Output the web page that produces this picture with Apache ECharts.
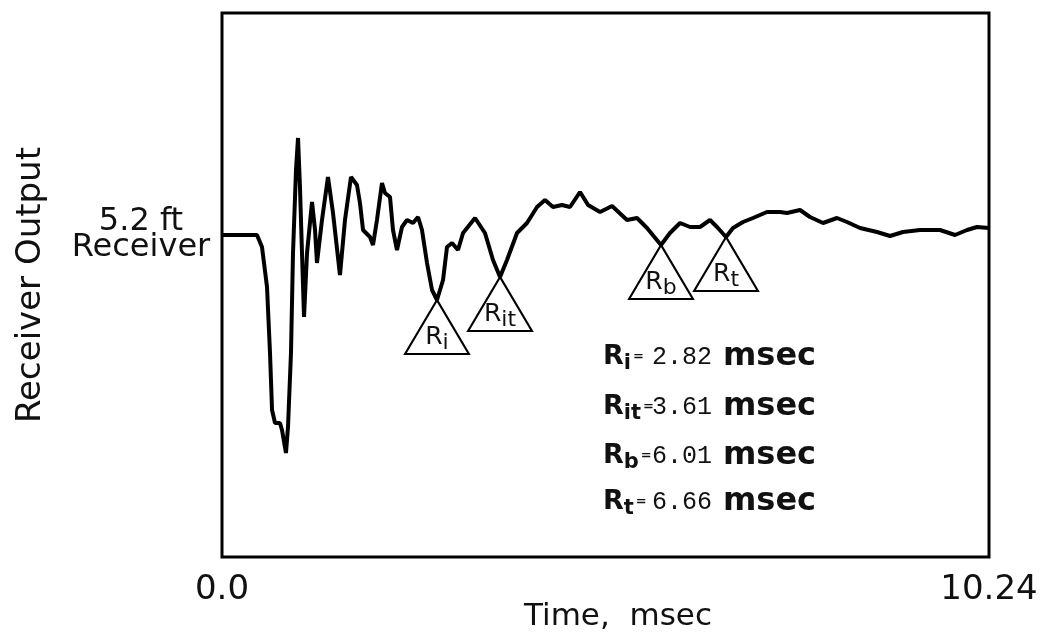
<!DOCTYPE html>
<html>
<head>
<meta charset="utf-8">
<title>Receiver Output</title>
<script src="https://cdn.jsdelivr.net/npm/echarts@6/dist/echarts.min.js"></script>
<style>
    html, body { margin: 0; padding: 0; background: #fff; }
    #chart { width: 1046px; height: 642px; }
</style>
</head>
<body>
<div id="chart"></div>
<script>
// trace (time in msec, output in arbitrary units)
var times = [0.000, 0.467, 0.534, 0.601, 0.641, 0.668, 0.708, 0.774, 0.801, 0.854,
    0.881, 0.921, 0.948, 0.988, 1.015, 1.041, 1.068, 1.095, 1.135, 1.202,
    1.242, 1.268, 1.335, 1.415, 1.482, 1.575, 1.642, 1.722, 1.802, 1.842,
    1.883, 1.976, 2.016, 2.069, 2.136, 2.176, 2.243, 2.283, 2.336, 2.403,
    2.470, 2.550, 2.617, 2.670, 2.737, 2.804, 2.870, 2.951, 3.004, 3.071,
    3.151, 3.218, 3.378, 3.511, 3.618, 3.712, 3.805, 3.939, 4.072, 4.206,
    4.312, 4.419, 4.539, 4.646, 4.780, 4.887, 5.047, 5.207, 5.407, 5.541,
    5.674, 5.861, 5.981, 6.115, 6.248, 6.382, 6.515, 6.609, 6.729, 6.822,
    6.956, 7.089, 7.276, 7.450, 7.543, 7.717, 7.850, 8.024, 8.211, 8.344,
    8.518, 8.745, 8.919, 9.092, 9.319, 9.586, 9.786, 9.947, 10.080, 10.240];
var output = [0, 0, -0.12, -0.52, -1.18, -1.75, -1.88, -1.88, -1.95, -2.18,
    -1.92, -1.18, -0.18, 0.65, 0.97, 0.48, -0.18, -0.82, -0.18, 0.33,
    0.05, -0.28, 0.15, 0.58, 0.22, -0.40, 0.15, 0.58, 0.50, 0.32,
    0.05, -0.02, -0.10, 0.15, 0.52, 0.42, 0.38, 0.05, -0.15, 0.08,
    0.15, 0.12, 0.18, 0.05, -0.28, -0.55, -0.65, -0.45, -0.12, -0.08,
    -0.15, 0.02, 0.17, 0.02, -0.25, -0.42, -0.25, 0.02, 0.12, 0.28,
    0.35, 0.28, 0.30, 0.28, 0.43, 0.30, 0.23, 0.29, 0.15, 0.17,
    0.07, -0.10, 0.02, 0.12, 0.08, 0.08, 0.15, 0.08, -0.02, 0.07,
    0.13, 0.17, 0.23, 0.23, 0.22, 0.25, 0.18, 0.12, 0.17, 0.13,
    0.07, 0.03, -0.01, 0.03, 0.05, 0.05, 0, 0.05, 0.08, 0.07];

// arrival markers (triangles sit on the dips of the trace)
var markSubs = ['i', 'it', 'b', 't'];
var markTimes = [2.870, 3.712, 5.861, 6.729];
var markValues = [-0.65, -0.42, -0.10, -0.02];
var arrivalLabels = ['2.82', '3.61', '6.01', '6.66'];

var xTickLabels = ['0.0', '10.24'];

var chart = echarts.init(document.getElementById('chart'));

var FONT = 'DejaVu Sans';

//三角形标记
var markData = markTimes.map(function (t, i) {
    return {
        coord: [t, markValues[i]],
        label: { formatter: '{r|R}{s|' + markSubs[i] + '}' }
    };
});

//右下角文字
var graphics = [];
var lineY = [357, 407, 456, 502];
markSubs.forEach(function (s, i) {
    graphics.push({
        type: 'text', x: 603, y: lineY[i],
        style: {
            text: '{r|R}{s|' + s + '}{e|=}',
            align: 'left', verticalAlign: 'middle',
            textAlign: 'left', textVerticalAlign: 'middle',
            rich: {
                r: { fontFamily: FONT, fontWeight: 'bold', fontSize: 27, fill: '#111' },
                s: { fontFamily: FONT, fontWeight: 'bold', fontSize: 21, fill: '#111', padding: [14, 0, 0, 0] },
                e: { fontFamily: FONT, fontWeight: 'bold', fontSize: 13, fill: '#111', padding: [0, 0, 0, 2] }
            }
        }
    });
    graphics.push({
        type: 'text', x: 652, y: lineY[i],
        style: {
            text: arrivalLabels[i], fill: '#111',
            font: '25px "Liberation Mono"',
            align: 'left', verticalAlign: 'middle',
            textAlign: 'left', textVerticalAlign: 'middle'
        }
    });
    graphics.push({
        type: 'text', x: 723, y: lineY[i],
        style: {
            text: 'msec', fill: '#111',
            font: 'bold 32px "DejaVu Sans"',
            align: 'left', verticalAlign: 'middle',
            textAlign: 'left', textVerticalAlign: 'middle'
        }
    });
});
//接收器标签
graphics.push({
    type: 'text', x: 141, y: 235,
    style: {
        text: '5.2 ft\nReceiver', fill: '#111',
        font: '32px "DejaVu Sans"', lineHeight: 26,
        align: 'center', verticalAlign: 'middle',
        textAlign: 'center', textVerticalAlign: 'middle'
    }
});
//横轴标题
graphics.push({
    type: 'text', x: 618, y: 617,
    style: {
        text: 'Time,  msec', fill: '#111',
        font: '31px "DejaVu Sans"',
        align: 'center', verticalAlign: 'middle',
        textAlign: 'center', textVerticalAlign: 'middle'
    }
});

var option = {
    animation: false,
    backgroundColor: '#fff',
    grid: {
        left: 222, right: 57, top: 13, bottom: 85,
        show: true, borderColor: '#000', borderWidth: 3, backgroundColor: 'transparent'
    },
    xAxis: {
        type: 'value',
        min: 0, max: 10.24, interval: 10.24,
        axisLine: { show: false },
        axisTick: { show: false },
        splitLine: { show: false },
        axisLabel: {
            margin: 16, fontFamily: FONT, fontSize: 34, color: '#111',
            showMinLabel: true, showMaxLabel: true,
            formatter: function (v) { return v === 0 ? xTickLabels[0] : xTickLabels[1]; }
        }
    },
    yAxis: {
        type: 'value',
        min: -3.22, max: 2.22,
        name: 'Receiver Output',
        nameLocation: 'middle', nameRotate: 90, nameGap: 174,
        nameTextStyle: { fontFamily: FONT, fontSize: 34, color: '#111' },
        axisLine: { show: false },
        axisTick: { show: false },
        axisLabel: { show: false },
        splitLine: { show: false }
    },
    series: [{
        type: 'line',
        data: times.map(function (t, i) { return [t, output[i]]; }),
        showSymbol: false,
        lineStyle: { color: '#000', width: 4 },
        markPoint: {
            symbol: 'triangle',
            symbolSize: [64, 54],
            symbolOffset: [0, 27],
            itemStyle: { color: '#fff', borderColor: '#000', borderWidth: 2 },
            label: {
                show: true, position: 'inside', offset: [0, 10], color: '#111',
                rich: {
                    r: { fontFamily: FONT, fontSize: 25, color: '#111' },
                    s: { fontFamily: FONT, fontSize: 22, color: '#111', padding: [12, 0, 0, 0] }
                }
            },
            data: markData
        }
    }],
    graphic: graphics
};
chart.setOption(option);
</script>
</body>
</html>
